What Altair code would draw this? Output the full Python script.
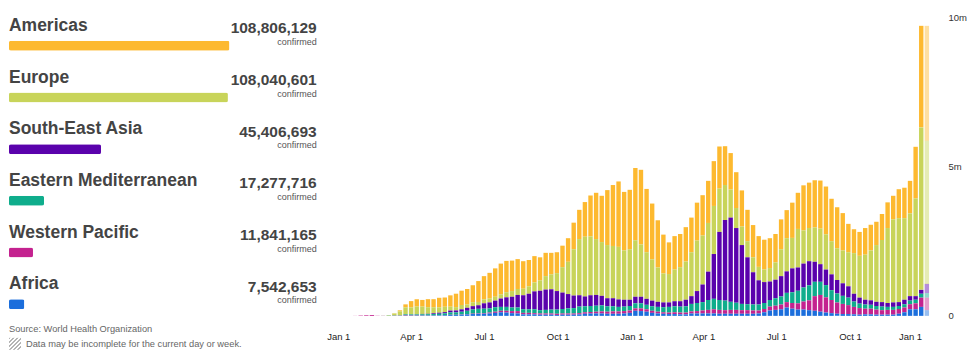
import altair as alt
import pandas as pd

# ---------------- data ----------------
regions = ["Americas", "Europe", "South-East Asia", "Eastern Mediterranean",
           "Western Pacific", "Africa"]
confirmed = [108806129, 108040601, 45406693, 17277716, 11841165, 7542653]
colors = ["#FDB92F", "#C8D45A", "#5A02AC", "#0FAD8C", "#C4228F", "#1B6EDC"]
# stacking order from the bottom of each weekly bar
stack_order = ["Africa", "Western Pacific", "Eastern Mediterranean",
               "South-East Asia", "Europe", "Americas"]

first_week = "2020-01-01"
n_weeks = 106

# weekly new cases, millions (one value per week starting 2020-01-01)
americas = [
    0, 0, 0, 0, 0, 0, 0, 0, 0, 0.001,
    0.01, 0.035, 0.10, 0.21, 0.245, 0.223, 0.27, 0.27, 0.32, 0.31,
    0.38, 0.45, 0.48, 0.52, 0.57, 0.70, 0.78, 0.86, 0.95, 1.03,
    1.05, 1.02, 1.00, 0.92, 0.88, 0.88, 0.77, 0.78, 0.72, 0.70,
    0.72, 0.79, 0.89, 0.98, 1.16, 1.37, 1.55, 1.55, 1.84, 2.04,
    2.19, 1.96, 1.99, 2.42, 2.50, 2.12, 1.87, 1.58, 1.30, 1.06,
    1.12, 1.11, 1.15, 1.16, 1.27, 1.35, 1.41, 1.50, 1.41, 1.30,
    1.22, 1.20, 1.21, 1.05, 1.08, 1.03, 1.00, 1.00, 0.95, 1.00,
    0.94, 1.18, 1.21, 1.51, 1.52, 1.58, 1.61, 1.60, 1.42, 1.38,
    1.25, 0.95, 0.80, 0.80, 0.89, 0.86, 0.78, 0.87, 0.86, 0.79,
    0.97, 1.02, 1.09, 1.73, 3.40, 3.85,
]
europe = [
    0, 0, 0, 0, 0, 0, 0, 0, 0.002, 0.012,
    0.06, 0.13, 0.23, 0.23, 0.256, 0.245, 0.22, 0.20, 0.18, 0.18,
    0.13, 0.11, 0.145, 0.11, 0.13, 0.11, 0.13, 0.13, 0.13, 0.14,
    0.17, 0.19, 0.20, 0.22, 0.25, 0.30, 0.35, 0.45, 0.50, 0.60,
    0.85, 1.08, 1.55, 1.88, 2.00, 1.97, 1.87, 1.80, 1.78, 1.75,
    1.76, 1.65, 1.69, 1.89, 1.75, 1.56, 1.38, 1.15, 0.97, 0.95,
    1.06, 1.14, 1.28, 1.47, 1.69, 1.64, 1.63, 1.61, 1.45, 1.17,
    0.94, 0.67, 0.62, 0.54, 0.50, 0.45, 0.42, 0.45, 0.58, 0.90,
    1.11, 1.02, 1.29, 1.11, 1.11, 1.15, 1.19, 1.18, 1.11, 1.06,
    1.10, 1.14, 1.36, 1.40, 1.51, 1.67, 1.90, 2.08, 2.51, 2.78,
    2.81, 2.73, 2.77, 3.27, 5.44, 4.79,
]
south_east_asia = [
    0, 0, 0, 0, 0, 0, 0, 0, 0, 0,
    0.0005, 0.001, 0.005, 0.006, 0.008, 0.012, 0.013, 0.025, 0.035, 0.04,
    0.06, 0.065, 0.08, 0.10, 0.11, 0.12, 0.18, 0.20, 0.22, 0.28,
    0.32, 0.36, 0.42, 0.47, 0.52, 0.60, 0.65, 0.68, 0.68, 0.62,
    0.55, 0.48, 0.42, 0.38, 0.33, 0.36, 0.36, 0.32, 0.27, 0.27,
    0.25, 0.23, 0.21, 0.22, 0.22, 0.20, 0.19, 0.17, 0.16, 0.15,
    0.17, 0.18, 0.22, 0.26, 0.40, 0.59, 0.95, 1.50, 2.28, 2.70,
    2.82, 2.50, 1.97, 1.57, 1.08, 0.81, 0.70, 0.62, 0.62, 0.68,
    0.72, 0.80, 0.78, 0.80, 0.81, 0.67, 0.59, 0.52, 0.53, 0.45,
    0.42, 0.38, 0.26, 0.20, 0.16, 0.15, 0.14, 0.15, 0.13, 0.15,
    0.13, 0.15, 0.15, 0.12, 0.13, 0.31,
]
eastern_mediterranean = [
    0, 0, 0, 0, 0, 0, 0, 0, 0.002, 0.008,
    0.01, 0.012, 0.03, 0.03, 0.03, 0.035, 0.04, 0.045, 0.05, 0.06,
    0.08, 0.08, 0.09, 0.11, 0.14, 0.15, 0.15, 0.14, 0.15, 0.13,
    0.13, 0.12, 0.12, 0.12, 0.12, 0.13, 0.11, 0.12, 0.13, 0.14,
    0.15, 0.17, 0.18, 0.22, 0.20, 0.20, 0.20, 0.20, 0.18, 0.17,
    0.15, 0.15, 0.15, 0.17, 0.17, 0.15, 0.15, 0.16, 0.17, 0.19,
    0.20, 0.20, 0.21, 0.25, 0.27, 0.28, 0.33, 0.35, 0.33, 0.32,
    0.27, 0.24, 0.21, 0.20, 0.20, 0.20, 0.20, 0.22, 0.25, 0.27,
    0.31, 0.36, 0.42, 0.47, 0.50, 0.48, 0.44, 0.41, 0.33, 0.30,
    0.27, 0.25, 0.18, 0.15, 0.14, 0.13, 0.12, 0.12, 0.10, 0.10,
    0.10, 0.11, 0.12, 0.12, 0.13, 0.15,
]
western_pacific = [
    0, 0.0001, 0.0003, 0.003, 0.013, 0.021, 0.028, 0.006, 0.004, 0.004,
    0.006, 0.007, 0.015, 0.012, 0.01, 0.008, 0.006, 0.005, 0.005, 0.005,
    0.007, 0.007, 0.008, 0.01, 0.015, 0.015, 0.02, 0.03, 0.04, 0.05,
    0.06, 0.07, 0.08, 0.05, 0.05, 0.04, 0.04, 0.04, 0.04, 0.04,
    0.04, 0.04, 0.04, 0.04, 0.05, 0.05, 0.06, 0.07, 0.07, 0.08,
    0.08, 0.08, 0.08, 0.08, 0.09, 0.08, 0.07, 0.06, 0.05, 0.05,
    0.06, 0.06, 0.06, 0.07, 0.08, 0.10, 0.12, 0.14, 0.13, 0.12,
    0.13, 0.13, 0.12, 0.12, 0.11, 0.10, 0.11, 0.13, 0.14, 0.16,
    0.18, 0.19, 0.21, 0.27, 0.33, 0.49, 0.56, 0.51, 0.44, 0.38,
    0.34, 0.30, 0.25, 0.22, 0.19, 0.19, 0.17, 0.15, 0.16, 0.16,
    0.16, 0.16, 0.17, 0.20, 0.31, 0.42,
]
africa = [
    0, 0, 0, 0, 0, 0, 0, 0, 0, 0,
    0.0005, 0.001, 0.005, 0.006, 0.007, 0.01, 0.01, 0.013, 0.015, 0.02,
    0.03, 0.03, 0.04, 0.05, 0.06, 0.07, 0.07, 0.08, 0.10, 0.12,
    0.11, 0.09, 0.08, 0.05, 0.05, 0.05, 0.04, 0.04, 0.04, 0.03,
    0.04, 0.04, 0.04, 0.05, 0.07, 0.08, 0.08, 0.08, 0.07, 0.07,
    0.07, 0.08, 0.10, 0.17, 0.16, 0.14, 0.10, 0.08, 0.07, 0.06,
    0.06, 0.05, 0.05, 0.08, 0.08, 0.08, 0.08, 0.08, 0.07, 0.07,
    0.07, 0.07, 0.07, 0.07, 0.07, 0.08, 0.12, 0.18, 0.20, 0.22,
    0.28, 0.24, 0.21, 0.21, 0.19, 0.17, 0.14, 0.11, 0.09, 0.07,
    0.06, 0.06, 0.05, 0.04, 0.05, 0.05, 0.04, 0.04, 0.04, 0.04,
    0.07, 0.12, 0.22, 0.22, 0.30, 0.19,
]

source_text = "Source: World Health Organization"
note_text = "Data may be incomplete for the current day or week."

# ---------------- tables ----------------
series = {
    "Americas": americas,
    "Europe": europe,
    "South-East Asia": south_east_asia,
    "Eastern Mediterranean": eastern_mediterranean,
    "Western Pacific": western_pacific,
    "Africa": africa,
}
weeks = pd.date_range(first_week, periods=n_weeks, freq="7D").strftime("%Y-%m-%d")
rows = []
for reg, vals in series.items():
    for i, v in enumerate(vals):
        rows.append({
            "date": weeks[i],
            "region": reg,
            "cases": v * 1e6,
            "stack": stack_order.index(reg),
            "partial": 1 if i == n_weeks - 1 else 0,
        })
weekly = pd.DataFrame(rows)

left_df = pd.DataFrame({"region": regions, "confirmed": confirmed})
foot_df = pd.DataFrame({"source": [source_text], "note": [note_text]})

color_scale = alt.Scale(domain=regions, range=colors)
TXT = "#444444"

# ---------------- left panel ----------------
ypos = alt.Y("region:N", sort=regions,
             scale=alt.Scale(type="band", domain=regions, paddingInner=0,
                             paddingOuter=0.229),
             axis=None)

left_bars = alt.Chart(left_df).mark_bar(height=10, cornerRadius=2).encode(
    x=alt.X("confirmed:Q", scale=alt.Scale(domain=[0, 152340000], nice=False),
            axis=None),
    y=ypos,
    color=alt.Color("region:N", scale=color_scale, legend=None),
)
names = alt.Chart(left_df).mark_text(
    align="left", baseline="alphabetic", dy=-15, fontSize=17.5,
    fontWeight="bold", color=TXT,
).encode(x=alt.value(0), y=ypos, text="region:N")
numbers = alt.Chart(left_df).mark_text(
    align="right", baseline="alphabetic", dy=-12.4, fontSize=15.5,
    fontWeight="bold", color=TXT,
).encode(x=alt.value(308), y=ypos, text=alt.Text("confirmed:Q", format=","))
conf_lbl = alt.Chart(left_df).mark_text(
    align="right", baseline="alphabetic", dy=-1, fontSize=9, color="#555555",
).encode(x=alt.value(308), y=ypos, text=alt.value("confirmed"))

src = alt.Chart(foot_df).mark_text(
    align="left", baseline="alphabetic", fontSize=9.3, color="#666666",
).encode(x=alt.value(0), y=alt.value(324.5), text="source:N")
note = alt.Chart(foot_df).mark_text(
    align="left", baseline="alphabetic", fontSize=9.3, color="#666666",
).encode(x=alt.value(17), y=alt.value(339), text="note:N")

stops = []
for k in range(6):
    a, b, c = k / 6, (k + 0.5) / 6, (k + 1) / 6
    stops += [alt.GradientStop(offset=a, color="#b4b4b4"),
              alt.GradientStop(offset=b, color="#b4b4b4"),
              alt.GradientStop(offset=b, color="#ffffff"),
              alt.GradientStop(offset=c, color="#ffffff")]
icon = alt.Chart(foot_df).mark_rect(
    fill=alt.LinearGradient(gradient="linear", stops=stops, x1=0, y1=0, x2=1, y2=1)
).encode(x=alt.value(0), x2=alt.value(12), y=alt.value(330), y2=alt.value(342))

left = alt.layer(left_bars, names, numbers, conf_lbl, src, note, icon).properties(
    width=309, height=334)

# ---------------- right panel ----------------
tick_dates = [alt.DateTime(year=y, month=m, date=1, utc=True)
              for y, m in [(2020, 1), (2020, 4), (2020, 7), (2020, 10),
                           (2021, 1), (2021, 4), (2021, 7), (2021, 10),
                           (2022, 1)]]
last_tick = "datum.value >= utc(2021, 11, 15)"

right = alt.Chart(weekly).mark_bar(width=4.4).encode(
    x=alt.X("date:T",
            scale=alt.Scale(type="utc",
                            domain=[alt.DateTime(year=2019, month=12, date=20, utc=True),
                                    alt.DateTime(year=2022, month=1, date=9, utc=True)]),
            axis=alt.Axis(values=tick_dates, format="%b %-d", grid=False,
                          ticks=False, domain=False, labelPadding=16,
                          labelFontSize=9.5, labelColor="#222222",
                          labelFlush=False,
                          labelAlign={"condition": {"test": last_tick, "value": "right"},
                                      "value": "center"},
                          labelOffset={"condition": {"test": last_tick, "value": -2},
                                       "value": 0}),
            title=None),
    y=alt.Y("cases:Q", stack="zero",
            scale=alt.Scale(domain=[0, 10301000], nice=False),
            axis=alt.Axis(orient="right", values=[0, 5000000, 10000000],
                          labelExpr="datum.value == 0 ? '0' : (datum.value / 1000000) + 'm'",
                          grid=False, ticks=False, domain=False, labelPadding=13,
                          labelFontSize=9.5, labelColor="#333333",
                          labelBaseline="middle"),
            title=None),
    color=alt.Color("region:N", scale=color_scale, legend=None),
    order=alt.Order("stack:Q", sort="ascending"),
    opacity=alt.condition("datum.partial == 1", alt.value(0.45), alt.value(1.0)),
).properties(width=612, height=308)

chart = alt.hconcat(left, right, spacing=6, bounds="flush").properties(
    padding={"left": 1, "top": 0, "right": 0, "bottom": 0}
).configure(font="Liberation Sans").configure_view(strokeWidth=0)

chart.save("out.html", embed_options={"renderer": "svg", "actions": False})
